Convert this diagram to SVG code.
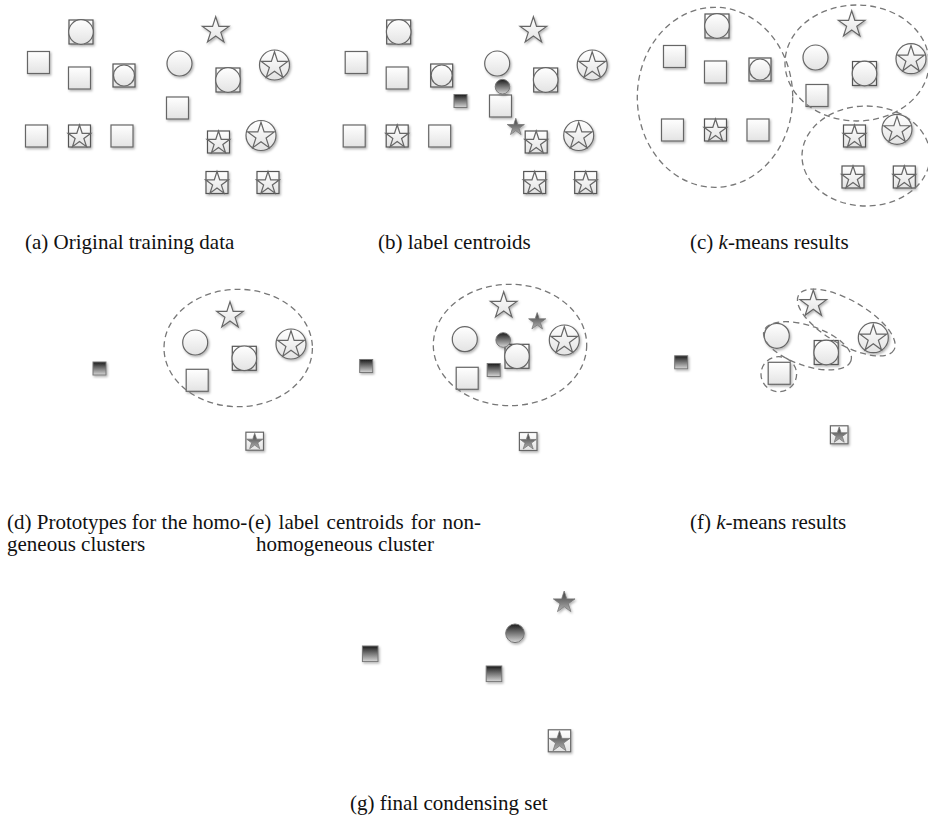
<svg xmlns="http://www.w3.org/2000/svg" xmlns:xlink="http://www.w3.org/1999/xlink" width="928" height="826" viewBox="0 0 928 826">
<style>
.lt{fill:url(#lg);stroke:#666;stroke-width:1.2}
.sqb{fill:url(#lg);stroke:#555;stroke-width:1.2}
.dk{fill:url(#dg);stroke:#777;stroke-width:1}
.dk2{fill:url(#dg2);stroke:#777;stroke-width:0.8}
.n{filter:url(#sh)}
.cl{fill:none;stroke:#777;stroke-width:1.3;stroke-dasharray:6 4}
.cap{font-family:"Liberation Serif","Times New Roman",serif;font-size:21px;fill:#111}
</style>
<defs>
<linearGradient id="lg" x1="0" y1="0" x2="0" y2="1"><stop offset="0" stop-color="#ffffff"/><stop offset="1" stop-color="#e3e3e3"/></linearGradient>
<linearGradient id="dg" x1="0" y1="0" x2="0" y2="1"><stop offset="0" stop-color="#1a1a1a"/><stop offset="1" stop-color="#d6d6d6"/></linearGradient>
<linearGradient id="dg2" x1="0" y1="0" x2="0" y2="1"><stop offset="0" stop-color="#3a3a3a"/><stop offset="1" stop-color="#b4b4b4"/></linearGradient>
<filter id="sh" x="-30%" y="-30%" width="160%" height="160%"><feDropShadow dx="1.2" dy="1.5" stdDeviation="1" flood-color="#000" flood-opacity="0.3"/></filter>
<path id="s14" d="M0,-14L3.14,-4.33L13.31,-4.33L5.09,1.65L8.23,11.33L0,5.35L-8.23,11.33L-5.09,1.65L-13.31,-4.33L-3.14,-4.33Z"/>
<path id="s12" d="M0,-12L2.69,-3.71L11.41,-3.71L4.36,1.42L7.05,9.71L0,4.58L-7.05,9.71L-4.36,1.42L-11.41,-3.71L-2.69,-3.71Z"/>
<path id="s9" d="M0,-9L2.02,-2.78L8.56,-2.78L3.27,1.06L5.29,7.28L0,3.44L-5.29,7.28L-3.27,1.06L-8.56,-2.78L-2.02,-2.78Z"/>
<path id="s85" d="M0,-8.5L1.91,-2.63L8.08,-2.63L3.09,1L5,6.88L0,3.25L-5,6.88L-3.09,1L-8.08,-2.63L-1.91,-2.63Z"/>
<path id="s114" d="M0,-11.4L2.56,-3.52L10.84,-3.52L4.14,1.34L6.7,9.22L0,4.35L-6.7,9.22L-4.14,1.34L-10.84,-3.52L-2.56,-3.52Z"/>
<path id="s11" d="M0,-11L2.47,-3.4L10.46,-3.4L3.99,1.3L6.47,8.9L0,4.2L-6.47,8.9L-3.99,1.3L-10.46,-3.4L-2.47,-3.4Z"/>
<g id="sq"><rect x="-11" y="-11" width="22" height="22" class="lt"/></g>
<g id="sqc"><rect x="-12" y="-12" width="24" height="24" class="sqb"/><circle r="12.3" class="lt"/></g>
<g id="sqc22"><rect x="-11" y="-11.5" width="22" height="23" class="sqb"/><circle r="10.5" class="lt"/></g>
<g id="sqs"><rect x="-11" y="-11" width="22" height="22" class="sqb"/><use href="#s12" y="1" class="lt"/></g>
<g id="cs"><circle r="15" class="lt"/><use href="#s14" y="0.8" class="lt"/></g>
<g id="st"><use href="#s14" class="lt"/></g>
<g id="ci"><circle r="12.5" class="lt"/></g>
<g id="dsq"><rect x="-6.5" y="-6.5" width="13" height="13" class="dk"/></g>
<g id="dci"><circle r="7.3" class="dk"/></g>
<g id="dst"><use href="#s9" class="dk2"/></g>
<g id="sqds"><rect x="-8.8" y="-9" width="17.6" height="18" class="lt"/><use href="#s85" y="0.6" class="dk2"/></g>
<g id="dsq16"><rect x="-7.8" y="-7.8" width="15.6" height="15.6" class="dk"/></g>
<g id="dci9"><circle r="9.3" class="dk"/></g>
<g id="dst11"><use href="#s114" class="dk2"/></g>
<g id="sqds22"><rect x="-11.2" y="-11" width="22.4" height="22" class="lt"/><use href="#s11" y="1" class="dk2"/></g>
</defs>
<rect width="928" height="826" fill="#fff"/>

<!-- (a) Original training data -->
<g id="panel-a">
<g id="a1" class="n"><use href="#sqc" x="81" y="32"/></g>
<g id="a2" class="n"><use href="#sq" x="38.5" y="62.5"/></g>
<g id="a3" class="n"><use href="#sq" x="79.5" y="78"/></g>
<g id="a4" class="n"><use href="#sqc22" x="124" y="75.5"/></g>
<g id="a5" class="n"><use href="#sq" x="36.5" y="136"/></g>
<g id="a6" class="n"><use href="#sqs" x="79.5" y="136"/></g>
<g id="a7" class="n"><use href="#sq" x="122" y="136"/></g>
<g id="a8" class="n"><use href="#st" x="215.7" y="30.7"/></g>
<g id="a9" class="n"><use href="#ci" x="179.5" y="63.5"/></g>
<g id="a10" class="n"><use href="#sqc" x="228" y="80"/></g>
<g id="a11" class="n"><use href="#cs" x="274.5" y="65"/></g>
<g id="a12" class="n"><use href="#sq" x="177.5" y="108"/></g>
<g id="a13" class="n"><use href="#cs" x="261" y="135.5"/></g>
<g id="a14" class="n"><use href="#sqs" x="218.5" y="142"/></g>
<g id="a15" class="n"><use href="#sqs" x="217" y="182.5"/></g>
<g id="a16" class="n"><use href="#sqs" x="268" y="182.5"/></g>
</g>

<!-- (b) label centroids -->
<g id="panel-b">
<g id="b1" class="n"><use href="#sqc" x="398.7" y="32"/></g>
<g id="b2" class="n"><use href="#sq" x="356.2" y="62.5"/></g>
<g id="b3" class="n"><use href="#sq" x="397.2" y="78"/></g>
<g id="b4" class="n"><use href="#sqc22" x="441.7" y="75.5"/></g>
<g id="b5" class="n"><use href="#sq" x="354.2" y="136"/></g>
<g id="b6" class="n"><use href="#sqs" x="397.2" y="136"/></g>
<g id="b7" class="n"><use href="#sq" x="439.7" y="136"/></g>
<g id="b8" class="n"><use href="#st" x="533.4" y="30.7"/></g>
<g id="b9" class="n"><use href="#ci" x="497.2" y="63.5"/></g>
<g id="b10" class="n"><use href="#sqc" x="545.7" y="80"/></g>
<g id="b11" class="n"><use href="#cs" x="592.2" y="65"/></g>
<g id="b12" class="n"><use href="#sq" x="500.5" y="106"/></g>
<g id="b13" class="n"><use href="#cs" x="578.7" y="135.5"/></g>
<g id="b14" class="n"><use href="#sqs" x="536.2" y="142"/></g>
<g id="b15" class="n"><use href="#sqs" x="534.7" y="182.5"/></g>
<g id="b16" class="n"><use href="#sqs" x="585.7" y="182.5"/></g>
<g id="b17" class="n"><use href="#dsq" x="460.5" y="101"/></g>
<g id="b18" class="n"><use href="#dci" x="502.5" y="86.7"/></g>
<g id="b19" class="n"><use href="#dst" x="515.8" y="127.3"/></g>
</g>

<!-- (c) k-means results -->
<g id="panel-c">
<g id="c1" class="n"><use href="#sqc" x="717" y="26"/></g>
<g id="c2" class="n"><use href="#sq" x="674.5" y="56.5"/></g>
<g id="c3" class="n"><use href="#sq" x="715.5" y="72"/></g>
<g id="c4" class="n"><use href="#sqc22" x="760" y="69.5"/></g>
<g id="c5" class="n"><use href="#sq" x="672.5" y="130"/></g>
<g id="c6" class="n"><use href="#sqs" x="715.5" y="130"/></g>
<g id="c7" class="n"><use href="#sq" x="758" y="130"/></g>
<g id="c8" class="n"><use href="#st" x="851.7" y="24.7"/></g>
<g id="c9" class="n"><use href="#ci" x="815.5" y="57.5"/></g>
<g id="c10" class="n"><use href="#sqc" x="864.5" y="73.5"/></g>
<g id="c11" class="n"><use href="#cs" x="911" y="58.7"/></g>
<g id="c12" class="n"><use href="#sq" x="817" y="95.5"/></g>
<g id="c13" class="n"><use href="#cs" x="897" y="129.3"/></g>
<g id="c14" class="n"><use href="#sqs" x="854.5" y="136"/></g>
<g id="c15" class="n"><use href="#sqs" x="853" y="177"/></g>
<g id="c16" class="n"><use href="#sqs" x="904.3" y="177"/></g>
</g>

<!-- (d) prototypes -->
<g id="panel-d">
<g id="d1" class="n"><use href="#dsq" x="99.5" y="368.5"/></g>
<g id="d2" class="n"><use href="#st" x="230" y="315.7"/></g>
<g id="d3" class="n"><use href="#ci" x="195.2" y="342.5"/></g>
<g id="d4" class="n"><use href="#sqc" x="244.3" y="358.3"/></g>
<g id="d5" class="n"><use href="#cs" x="291" y="344"/></g>
<g id="d6" class="n"><use href="#sq" x="197.2" y="380.3"/></g>
<g id="d7" class="n"><use href="#sqds" x="254.7" y="441.2"/></g>
</g>

<!-- (e) label centroids for non-homogeneous cluster -->
<g id="panel-e">
<g id="e1" class="n"><use href="#dsq" x="366.2" y="366"/></g>
<g id="e2" class="n"><use href="#st" x="503.7" y="305.7"/></g>
<g id="e3" class="n"><use href="#dst" x="537.2" y="321.6"/></g>
<g id="e4" class="n"><use href="#ci" x="464.8" y="339.2"/></g>
<g id="e5" class="n"><use href="#sqc" x="517" y="356.3"/></g>
<g id="e6" class="n"><use href="#dci" x="503.2" y="340"/></g>
<g id="e7" class="n"><use href="#cs" x="564.3" y="340"/></g>
<g id="e8" class="n"><use href="#dsq" x="493.7" y="370"/></g>
<g id="e9" class="n"><use href="#sq" x="467.2" y="378.3"/></g>
<g id="e10" class="n"><use href="#sqds" x="528.2" y="441.5"/></g>
</g>

<!-- (f) k-means results -->
<g id="panel-f">
<g id="f1" class="n"><use href="#dsq" x="681.2" y="362.3"/></g>
<g id="f2" class="n"><use href="#st" x="813.3" y="304"/></g>
<g id="f3" class="n"><use href="#ci" x="776.8" y="335.8"/></g>
<g id="f4" class="n"><use href="#sqc" x="826.2" y="352.5"/></g>
<g id="f5" class="n"><use href="#cs" x="873.3" y="337.7"/></g>
<g id="f6" class="n"><use href="#sq" x="779.2" y="373.3"/></g>
<g id="f7" class="n"><use href="#sqds" x="839.2" y="434.8"/></g>
</g>

<!-- (g) final condensing set -->
<g id="panel-g">
<g id="g1" class="n"><use href="#dst11" x="564.2" y="602.4"/></g>
<g id="g2" class="n"><use href="#dci9" x="515" y="633.3"/></g>
<g id="g3" class="n"><use href="#dsq16" x="370.2" y="653.8"/></g>
<g id="g4" class="n"><use href="#dsq16" x="494" y="673.8"/></g>
<g id="g5" class="n"><use href="#sqds22" x="559.5" y="740.8"/></g>
</g>

<!-- cluster outlines -->
<g id="clusters">
<ellipse class="cl" cx="715" cy="97.3" rx="77.7" ry="90"/>
<ellipse class="cl" cx="857" cy="63" rx="72" ry="58"/>
<ellipse class="cl" cx="866" cy="156" rx="64" ry="50"/>
<ellipse class="cl" cx="238.2" cy="348" rx="74.2" ry="58.7"/>
<ellipse class="cl" cx="510" cy="345" rx="76.7" ry="60.7"/>
<ellipse class="cl" cx="0" cy="0" rx="55" ry="22" transform="translate(846.3,322.5) rotate(30)"/>
<ellipse class="cl" cx="0" cy="0" rx="46" ry="20" transform="translate(807.5,345.8) rotate(19)"/>
<ellipse class="cl" cx="778.8" cy="374.2" rx="17.8" ry="17.5"/>
</g>

<!-- captions -->
<g id="captions" class="cap">
<text x="25" y="249">(a) Original training data</text>
<text x="378" y="249">(b) label centroids</text>
<text x="690" y="249">(c) <tspan font-style="italic">k</tspan>-means results</text>
<text x="7" y="529">(d) Prototypes for the homo-</text>
<text x="7" y="551">geneous clusters</text>
<text x="248" y="529" word-spacing="2">(e) label centroids for non-</text>
<text x="256" y="551">homogeneous cluster</text>
<text x="690" y="529">(f) <tspan font-style="italic">k</tspan>-means results</text>
<text x="350" y="810">(g) final condensing set</text>
</g>
</svg>
